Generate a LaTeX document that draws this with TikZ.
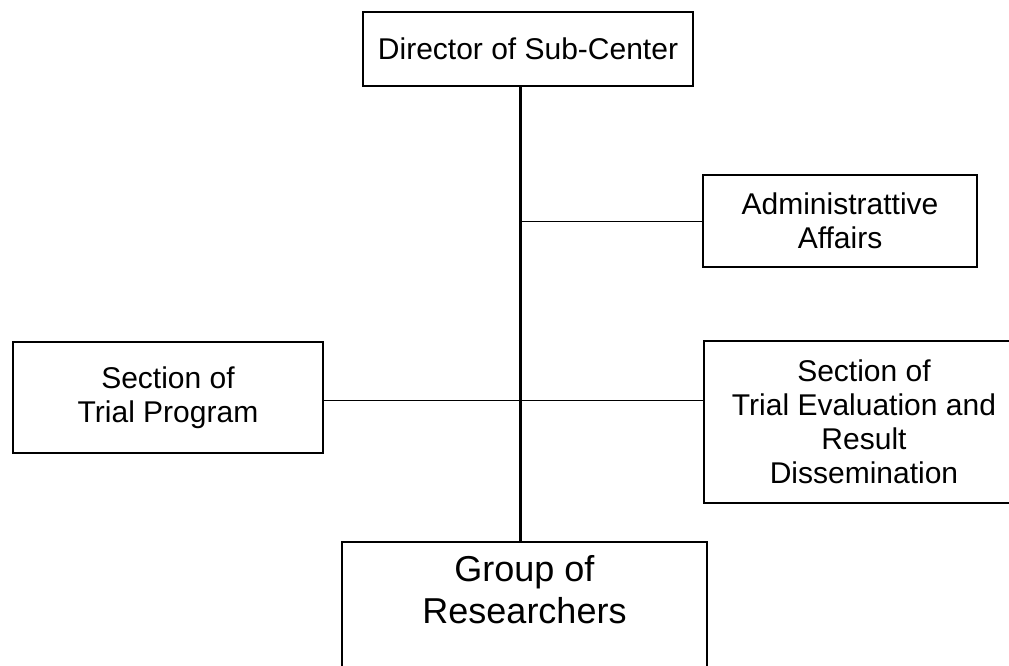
\documentclass[tikz,border=0pt]{standalone}
\usepackage{fontspec}
\setmainfont{Liberation Sans}
\begin{document}
\begin{tikzpicture}[x=1pt,y=-1pt,
  unitbox/.style={draw=black,line width=1.6pt,rectangle,align=center,inner sep=0pt,
    font=\fontsize{30}{34}\selectfont},
  trunk/.style={line width=3pt},
  branch/.style={line width=1pt}]
\useasboundingbox (0,0) rectangle (1009,665);
\clip (0,0) rectangle (1009,665);
% organisational units
\node[unitbox,minimum width=330,minimum height=74] (dir) at (528,49) {Director of Sub-Center};
\node[unitbox,minimum width=274,minimum height=92] (adm) at (840,221) {Administrattive\\Affairs};
\node[unitbox,minimum width=310,minimum height=111] (tp) at (168,397.5) {Section of\\Trial Program};
\node[unitbox,minimum width=320,minimum height=162] (ev) at (864,422) {Section of\\Trial Evaluation and\\Result\\Dissemination};
\node[unitbox,minimum width=365,anchor=north,inner ysep=14pt,text depth=70pt,
  font=\fontsize{36}{42}\selectfont] (grp) at (524.5,541) {Group of\\Researchers};
% main line of authority
\coordinate (jadm) at (520,221);
\coordinate (jsec) at (520,400);
\draw[trunk] (dir.south -| jadm) -- (grp.north -| jadm);
\draw[branch] (jadm) -- (adm.west);
\draw[branch] (jsec -| tp.east) -- (jsec -| ev.west);
\end{tikzpicture}
\end{document}
